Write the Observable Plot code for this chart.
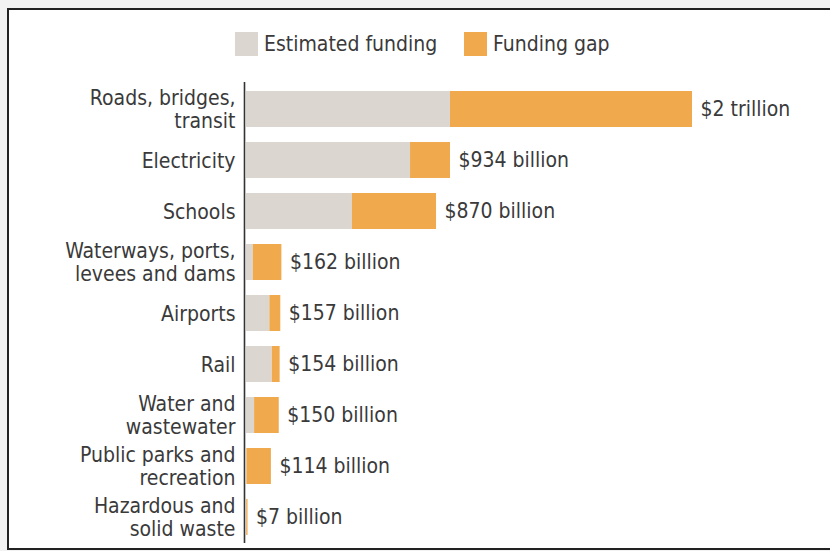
<!DOCTYPE html>
<html>
<head>
<meta charset="utf-8">
<script src="https://cdn.jsdelivr.net/npm/d3@7"></script>
<script src="https://cdn.jsdelivr.net/npm/@observablehq/plot@0.6"></script>
<style>
  html, body { margin: 0; padding: 0; background: #f2f2f2; overflow: hidden; width: 830px; height: 551px; }
  #frame { position: absolute; left: 7px; top: 8px; width: 840px; height: 538px; border: 2px solid #222; background: #fff; box-sizing: content-box; }
  #wrap { position: absolute; left: 0; top: 0; width: 830px; }
  #legend { position: relative; height: 68px; font-family: "DejaVu Sans Condensed", "Liberation Sans Narrow", Roboto, sans-serif; font-size: 21px; color: #3a3a3a; }
  .item { position: absolute; top: 31px; display: flex; align-items: center; height: 25px; }
  .sw { width: 23px; height: 24px; margin-right: 6px; }
  #chart svg { display: block; }
</style>
</head>
<body>
<div id="frame"></div>
<div id="wrap">
  <div id="legend"></div>
  <div id="chart"></div>
</div>
<script>
const categories = [
  "Roads, bridges,\ntransit",
  "Electricity",
  "Schools",
  "Waterways, ports,\nlevees and dams",
  "Airports",
  "Rail",
  "Water and\nwastewater",
  "Public parks and\nrecreation",
  "Hazardous and\nsolid waste"
];
const estimatedFunding = [934, 751, 485, 31, 107, 118, 37, 2, 1];
const fundingGap = [1108, 183, 385, 131, 50, 36, 113, 112, 6];
const totalLabels = ["$2 trillion", "$934 billion", "$870 billion", "$162 billion", "$157 billion", "$154 billion", "$150 billion", "$114 billion", "$7 billion"];
const seriesNames = ["Estimated funding", "Funding gap"];
const seriesColors = ["#dbd6d0", "#f0aa4d"];

const FONT = '"DejaVu Sans Condensed", "Liberation Sans Narrow", Roboto, sans-serif';

// legend
const legend = document.getElementById("legend");
const legendLeft = [235, 464];
seriesNames.forEach((name, i) => {
  const it = document.createElement("div");
  it.className = "item";
  it.style.left = legendLeft[i] + "px";
  it.innerHTML = `<div class="sw" style="background:${seriesColors[i]}"></div><span>${name}</span>`;
  legend.appendChild(it);
});

const rows = categories.map((c, i) => ({
  cat: c,
  est: estimatedFunding[i],
  gap: fundingGap[i],
  total: estimatedFunding[i] + fundingGap[i],
  label: totalLabels[i]
}));

const chart = Plot.plot({
  width: 830,
  height: 483,
  marginLeft: 246,
  marginRight: 138,
  marginTop: 7,
  marginBottom: 0,
  style: { fontFamily: FONT, background: "transparent", color: "#3a3a3a" },
  x: { domain: [0, d3.max(rows, d => d.total)], axis: null },
  y: { domain: categories, padding: 0.287, axis: null },
  marks: [
    Plot.barX(rows, { y: "cat", x1: 0, x2: "est", fill: seriesColors[0] }),
    Plot.barX(rows, { y: "cat", x1: "est", x2: "total", fill: seriesColors[1] }),
    Plot.ruleX([0], { stroke: "#333", strokeWidth: 1.6, dx: -2, insetTop: 7, insetBottom: 8 }),
    Plot.text(rows, { y: "cat", text: "cat", frameAnchor: "left", textAnchor: "end", dx: -11, fontSize: 21, lineHeight: 1.1, fill: "#3a3a3a" }),
    Plot.text(rows, { y: "cat", x: "total", text: "label", textAnchor: "start", dx: 8, fontSize: 21, fill: "#3a3a3a" })
  ]
});
document.getElementById("chart").appendChild(chart);
</script>
</body>
</html>
